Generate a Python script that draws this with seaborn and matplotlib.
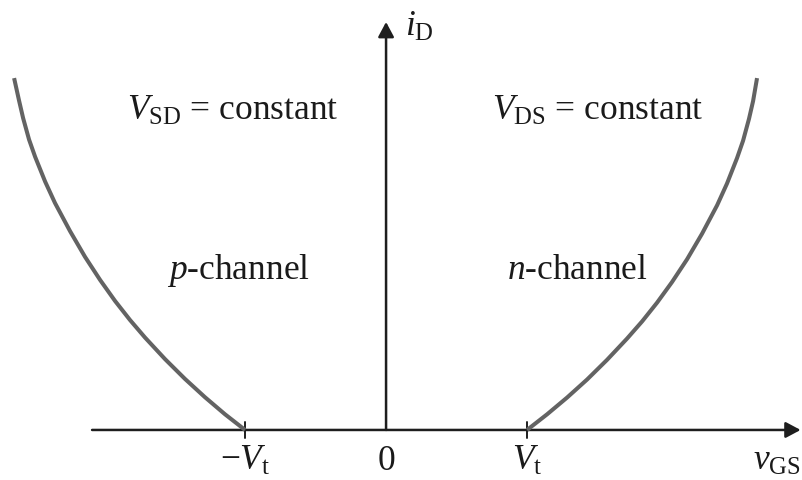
import matplotlib
matplotlib.use("Agg")
import matplotlib.pyplot as plt
import pandas as pd
import seaborn as sns

sns.set_theme(style="white")
plt.rcParams["font.family"] = ["Liberation Serif", "DejaVu Serif"]
plt.rcParams["mathtext.fontset"] = "custom"
plt.rcParams["mathtext.rm"] = "Liberation Serif"
plt.rcParams["mathtext.it"] = "Liberation Serif:italic"
plt.rcParams["mathtext.bf"] = "Liberation Serif:bold"

# Transfer characteristics, v_GS in units of V_t, i_D in relative units
n_vgs = [1.0, 1.142, 1.284, 1.426, 1.567, 1.709, 1.816, 1.922, 2.028, 2.135,
         2.241, 2.348, 2.418, 2.489, 2.532, 2.574, 2.603, 2.631]
n_id = [0.0, 0.111, 0.230, 0.358, 0.497, 0.648, 0.770, 0.903, 1.049, 1.211,
        1.392, 1.594, 1.748, 1.928, 2.052, 2.207, 2.333, 2.496]
p_vgs = [-1.0, -1.142, -1.284, -1.426, -1.567, -1.709, -1.816, -1.922, -2.028, -2.135,
         -2.241, -2.348, -2.418, -2.489, -2.532, -2.574, -2.603, -2.638]
p_id = [0.0, 0.111, 0.232, 0.362, 0.502, 0.655, 0.780, 0.915, 1.064, 1.228,
        1.410, 1.610, 1.762, 1.938, 2.060, 2.212, 2.337, 2.496]

tick_vals = [-1.0, 0.0, 1.0]
tick_labels = [r"$-V_{\rm t}$", "0", r"$V_{\rm t}$"]

curves = pd.concat([
    pd.DataFrame({"vgs": n_vgs, "id": n_id, "channel": "n"}),
    pd.DataFrame({"vgs": p_vgs, "id": p_id, "channel": "p"}),
])

fig = plt.figure(figsize=(8.03, 4.80), dpi=100)
ax = fig.add_axes([0, 0, 1, 1])
ax.set_xlim(-2.738, 2.957)
ax.set_ylim(-0.355, 3.050)
ax.axis("off")

sns.lineplot(data=curves, x="vgs", y="id", hue="channel", units="channel",
             estimator=None, sort=False, palette={"n": "#636363", "p": "#636363"},
             linewidth=2.9, legend=False, ax=ax, zorder=3)
for line in ax.lines:
    line.set_solid_joinstyle("round")
    line.set_solid_capstyle("butt")

axis_color = "#1e1e1e"
arrow = dict(arrowstyle="-|>,head_length=0.45,head_width=0.24", lw=1.8,
             color=axis_color, mutation_scale=20, shrinkA=0, shrinkB=0)
ax.annotate("", xy=(2.94, 0), xytext=(-2.085, 0), arrowprops=arrow, zorder=2)
ax.annotate("", xy=(0, 2.894), xytext=(0, 0), arrowprops=arrow, zorder=2)

# threshold ticks on the v_GS axis
for v in (tick_vals[0], tick_vals[2]):
    ax.plot([v, v], [-0.057, 0.057], color=axis_color, lw=1.4, zorder=2)

fs = 25.5
txt = "#1a1a1a"
for v, lab in zip(tick_vals, tick_labels):
    ax.text(v, -0.285, lab, ha="center", va="baseline", fontsize=fs, color=txt)

ax.text(2.603, -0.285, r"$v_{\rm GS}$", ha="left", va="baseline", fontsize=fs, color=txt)
ax.text(0.135, 2.795, r"$i_{\rm D}$", ha="left", va="baseline", fontsize=fs, color=txt)

ax.text(-1.837, 2.199, r"$V_{\rm SD}$ = constant", ha="left", va="baseline", fontsize=fs, color=txt)
ax.text(0.752, 2.199, r"$V_{\rm DS}$ = constant", ha="left", va="baseline", fontsize=fs, color=txt)
ax.text(-1.553, 1.07, r"$p$-channel", ha="left", va="baseline", fontsize=fs, color=txt)
ax.text(0.858, 1.07, r"$n$-channel", ha="left", va="baseline", fontsize=fs, color=txt)

fig.savefig("out.png", dpi=100, facecolor="white")
